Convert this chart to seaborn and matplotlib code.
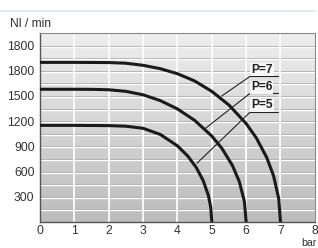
import numpy as np
import pandas as pd
import matplotlib
matplotlib.use("Agg")
import matplotlib.pyplot as plt
from matplotlib.lines import Line2D
import seaborn as sns

# -----------------------------
# Data
# -----------------------------
p7_x = [0, 1, 2, 2.5, 3, 3.5, 4, 4.5, 5, 5.5, 6, 6.3, 6.6, 6.8, 6.95, 7]
p7_y = [1900, 1900, 1898, 1890, 1865, 1825, 1765, 1679, 1555, 1392, 1172, 998, 767, 548, 276, 0]

p6_x = [0, 1, 1.5, 2, 2.5, 3, 3.5, 4, 4.5, 5, 5.3, 5.6, 5.8, 5.95, 6]
p6_y = [1580, 1580, 1579, 1574, 1555, 1514, 1445, 1346, 1210, 1023, 873, 673, 482, 243, 0]

p5_x = [0, 1, 2, 2.5, 3, 3.5, 4, 4.3, 4.55, 4.75, 4.9, 4.97, 5]
p5_y = [1150, 1150, 1147, 1140, 1115, 1042, 906, 785, 647, 492, 316, 174, 0]

y_ticks = [300, 600, 900, 1200, 1500, 1800, 2100]
y_tick_labels = ["300", "600", "900", "1200", "1500", "1800", "1800"]
x_ticks = [0, 1, 2, 3, 4, 5, 6, 7, 8]

labels = ["P=7", "P=6", "P=5"]
label_y = [1815, 1601, 1388]
underline_y = [1732, 1530, 1305]
leader_end_x = [5.29, 4.80, 4.57]
leader_end_y = [1500, 1110, 700]

df = pd.concat([
    pd.DataFrame({"bar": p7_x, "flow": p7_y, "P": "7"}),
    pd.DataFrame({"bar": p6_x, "flow": p6_y, "P": "6"}),
    pd.DataFrame({"bar": p5_x, "flow": p5_y, "P": "5"}),
])

# -----------------------------
# Style
# -----------------------------
sns.set_theme(style="white")
plt.rcParams["font.family"] = ["Liberation Sans", "DejaVu Sans"]

fig = plt.figure(figsize=(3.18, 2.48), dpi=100)
ax = fig.add_axes([0.126, 0.105, 0.864, 0.762])

XMAX, YMAX = 8, 2250
ax.set_xlim(0, XMAX)
ax.set_ylim(0, YMAX)

# gradient background
grad = np.linspace(0, 1, 256).reshape(-1, 1)
ax.imshow(grad, extent=[0, XMAX, 0, YMAX], aspect="auto", origin="lower",
          cmap=matplotlib.colors.LinearSegmentedColormap.from_list(
              "bg", ["#bcbcbc", "#eeeeee"]), zorder=0)

# grid: gray line + white highlight
for yv in np.arange(150, YMAX, 150):
    ax.axhline(yv, color="#9c9c9c", lw=0.6, zorder=1)
    ax.axhline(yv - 12, color="#ffffff", lw=1.0, zorder=1)
for xv in range(1, XMAX):
    ax.axvline(xv - 0.03, color="#a0a0a0", lw=0.5, zorder=1)
    ax.axvline(xv, color="#ffffff", lw=1.3, zorder=1)

# curves
sns.lineplot(data=df, x="bar", y="flow", units="P", estimator=None,
             color="#1a1a1a", lw=2.2, sort=False, ax=ax, zorder=3,
             legend=False)

# labels with leaders
for lab, ty, uy, ex, ey in zip(labels, label_y, underline_y, leader_end_x, leader_end_y):
    ax.text(6.46, ty, lab, ha="center", va="center", fontsize=8.6,
            fontweight="bold", color="#222222", zorder=5,
            bbox=dict(facecolor="#f6f6f6", edgecolor="none", pad=0.6))
    ax.plot([6.11, 6.92], [uy, uy], color="#222222", lw=0.8, zorder=4)
    ax.plot([6.11, ex], [uy, ey], color="#222222", lw=0.8, zorder=4)

# axes and ticks
ax.set_xticks(x_ticks)
ax.set_yticks(y_ticks)
ax.set_yticklabels(y_tick_labels)
ax.tick_params(length=0, labelsize=8.7, colors="#333333")
ax.tick_params(axis="y", pad=4)
ax.tick_params(axis="x", pad=2.5)
ax.set_xlabel("")
ax.set_ylabel("")

for side in ["left", "bottom"]:
    ax.spines[side].set_color("#555555")
    ax.spines[side].set_linewidth(1.0)
for side in ["top", "right"]:
    ax.spines[side].set_color("#8a8a8a")
    ax.spines[side].set_linewidth(0.8)

fig.text(10 / 318, 1 - 24 / 248, "Nl / min", fontsize=8.7, color="#333333",
         ha="left", va="center")
fig.text(0.997, 0.5 / 248, "bar", fontsize=7.6, color="#333333",
         ha="right", va="bottom")

fig.add_artist(Line2D([0, 315 / 318], [1 - 11 / 248, 1 - 11 / 248],
                      color="#dde6ef", lw=1.2))

fig.savefig("out.png", dpi=100)
